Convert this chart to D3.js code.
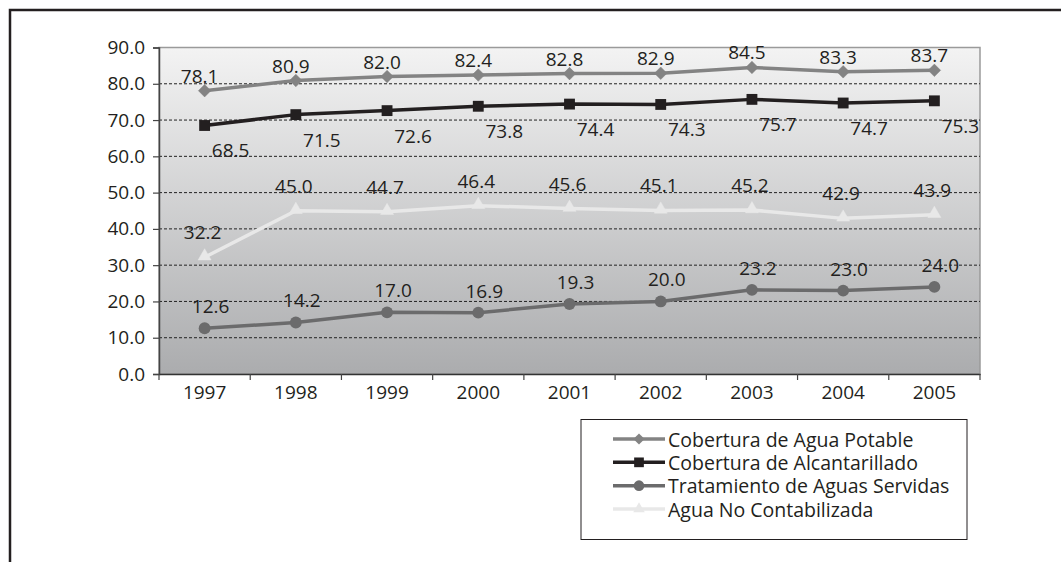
<!DOCTYPE html>
<html>
<head>
<meta charset="utf-8">
<script src="https://cdn.jsdelivr.net/npm/d3@7"></script>
<style>
  html, body { margin: 0; padding: 0; background: #ffffff; }
  svg { display: block; }
  text { font-family: "Open Sans", "Noto Sans", sans-serif; fill: #231f20; }
</style>
</head>
<body>
<svg id="chart" width="1061" height="562"></svg>
<script>
// Indicadores del sector sanitario, 1997-2005 (%)
const years = ["1997", "1998", "1999", "2000", "2001", "2002", "2003", "2004", "2005"];
const aguaPotable = [78.1, 80.9, 82.0, 82.4, 82.8, 82.9, 84.5, 83.3, 83.7];
const alcantarillado = [68.5, 71.5, 72.6, 73.8, 74.4, 74.3, 75.7, 74.7, 75.3];
const tratamiento = [12.6, 14.2, 17.0, 16.9, 19.3, 20.0, 23.2, 23.0, 24.0];
const noContabilizada = [32.2, 45.0, 44.7, 46.4, 45.6, 45.1, 45.2, 42.9, 43.9];
const yTicks = [0, 10, 20, 30, 40, 50, 60, 70, 80, 90];
const seriesNames = [
  "Cobertura de Agua Potable",
  "Cobertura de Alcantarillado",
  "Tratamiento de Aguas Servidas",
  "Agua No Contabilizada"
];

const FONT = "19px";
const svg = d3.select("#chart");

// Outer frame (only left and top edges fall inside the view)
svg.append("path")
  .attr("d", "M10,562 V10 H1061")
  .attr("fill", "none")
  .attr("stroke", "#231f20")
  .attr("stroke-width", 2.5);

const plot = { left: 159, right: 980, top: 47.5, bottom: 374 };

const x = d3.scaleBand().domain(years).range([plot.left, plot.right]).padding(0);
const y = d3.scaleLinear().domain([0, 90]).range([plot.bottom, plot.top]);
const cx = d => x(d) + x.bandwidth() / 2;

// Plot background gradient
const defs = svg.append("defs");
const grad = defs.append("linearGradient")
  .attr("id", "plotBg").attr("x1", 0).attr("y1", 0).attr("x2", 0).attr("y2", 1);
grad.append("stop").attr("offset", "0%").attr("stop-color", "#f3f3f3");
grad.append("stop").attr("offset", "100%").attr("stop-color", "#abacae");

svg.append("rect")
  .attr("x", plot.left).attr("y", plot.top)
  .attr("width", plot.right - plot.left).attr("height", plot.bottom - plot.top)
  .attr("fill", "url(#plotBg)")
  .attr("stroke", "#9a9a9a").attr("stroke-width", 1.5);

// Dashed gridlines
svg.append("g")
  .selectAll("line")
  .data(yTicks.filter(t => t > 0 && t < 90))
  .join("line")
  .attr("x1", plot.left).attr("x2", plot.right)
  .attr("y1", d => y(d)).attr("y2", d => y(d))
  .attr("stroke", "#222").attr("stroke-width", 1)
  .attr("stroke-dasharray", "3,2");

// Y axis
const yAxis = svg.append("g")
  .attr("transform", `translate(${plot.left},0)`)
  .call(d3.axisLeft(y).tickValues(yTicks).tickFormat(d3.format(".1f")).tickSize(6).tickPadding(8));
yAxis.select(".domain").attr("stroke", "#444").attr("stroke-width", 1.5);
yAxis.selectAll(".tick line").attr("stroke", "#444").attr("stroke-width", 1.2);
yAxis.selectAll("text").style("font-size", FONT).attr("fill", "#231f20")
  .style("font-family", "'Open Sans', sans-serif");

// X axis: ticks sit on band boundaries
const xAxis = svg.append("g")
  .attr("transform", `translate(0,${plot.bottom})`)
  .call(d3.axisBottom(x).tickSize(0).tickPadding(12));
xAxis.select(".domain").attr("stroke", "#333").attr("stroke-width", 1.5);
xAxis.selectAll("text").style("font-size", FONT).attr("fill", "#231f20")
  .attr("dy", "0.71em")
  .style("font-family", "'Open Sans', sans-serif");
const boundaries = years.map(d => x(d)).concat([plot.right]);
xAxis.selectAll(".bnd")
  .data(boundaries)
  .join("line")
  .attr("class", "bnd")
  .attr("x1", d => d).attr("x2", d => d)
  .attr("y1", 0).attr("y2", 6)
  .attr("stroke", "#444").attr("stroke-width", 1.2);

// Series definitions
const series = [
  { name: seriesNames[0], values: aguaPotable, color: "#838383", symbol: d3.symbolDiamond2, size: 100, labelDx: -5, labelDy: -15 },
  { name: seriesNames[1], values: alcantarillado, color: "#231f20", symbol: d3.symbolSquare2, size: 150, labelDx: 26, labelDy: 25 },
  { name: seriesNames[2], values: tratamiento, color: "#6b6b6c", symbol: d3.symbolCircle, size: 110, labelDx: 6, labelDy: -22 },
  { name: seriesNames[3], values: noContabilizada, color: "#e8e8e8", symbol: d3.symbolTriangle2, size: 120, labelDx: -2, labelDy: -25 }
];

const line = d3.line().x((d, i) => cx(years[i])).y(d => y(d));

// Drawn back to front so the light series sits beneath the darker ones
const drawOrder = [3, 2, 1, 0];
drawOrder.forEach(k => {
  const s = series[k];
  const g = svg.append("g");
  g.append("path")
    .attr("d", line(s.values))
    .attr("fill", "none")
    .attr("stroke", s.color)
    .attr("stroke-width", 3.5)
    .attr("stroke-linejoin", "round");
  g.selectAll("path.m")
    .data(s.values)
    .join("path")
    .attr("class", "m")
    .attr("d", d3.symbol().type(s.symbol).size(s.size))
    .attr("transform", (d, i) => {
      const dy = s.symbol === d3.symbolTriangle2 ? -1 : 0;
      return `translate(${cx(years[i])},${y(d) + dy})`;
    })
    .attr("fill", s.color)
    .attr("stroke", s.symbol === d3.symbolCircle ? "none" : s.color)
    .attr("stroke-width", s.symbol === d3.symbolSquare2 ? 0 : 0.5);
});

// Value labels
series.forEach(s => {
  svg.append("g")
    .selectAll("text")
    .data(s.values)
    .join("text")
    .attr("x", (d, i) => cx(years[i]) + s.labelDx)
    .attr("y", d => y(d) + s.labelDy)
    .attr("text-anchor", "middle")
    .attr("dominant-baseline", "central")
    .style("font-size", FONT)
    .text(d => d3.format(".1f")(d));
});

// Legend
const legend = svg.append("g");
legend.append("rect")
  .attr("x", 581).attr("y", 419.5)
  .attr("width", 386).attr("height", 120)
  .attr("fill", "#ffffff")
  .attr("stroke", "#231f20").attr("stroke-width", 1);

const legendY = d3.scalePoint().domain(seriesNames).range([439, 509]);
series.forEach(s => {
  const ly = legendY(s.name);
  const row = legend.append("g");
  row.append("line")
    .attr("x1", 613).attr("x2", 665)
    .attr("y1", ly).attr("y2", ly)
    .attr("stroke", s.color).attr("stroke-width", 3.5);
  row.append("path")
    .attr("d", d3.symbol().type(s.symbol).size(s.size * 0.8))
    .attr("transform", `translate(639,${ly})`)
    .attr("fill", s.color);
  row.append("text")
    .attr("x", 668).attr("y", ly)
    .attr("dominant-baseline", "central")
    .style("font-size", "19.5px")
    .text(s.name);
});
</script>
</body>
</html>
